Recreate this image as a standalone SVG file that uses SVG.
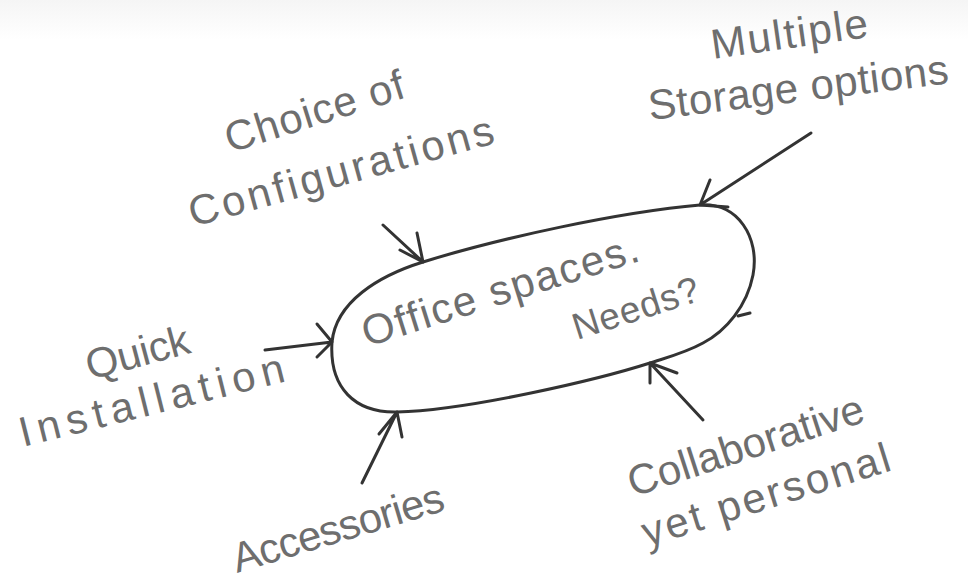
<svg xmlns="http://www.w3.org/2000/svg" width="968" height="584" viewBox="0 0 968 584">
<defs>
<linearGradient id="topfade" x1="0" y1="0" x2="0" y2="1">
<stop offset="0" stop-color="#f5f5f5"/>
<stop offset="1" stop-color="#ffffff"/>
</linearGradient>
<style>
.lbl{font-family:"Liberation Sans",Arial,sans-serif;font-size:42px;fill:#6e6e6e;}
.ln{fill:none;stroke:#333333;stroke-width:3;stroke-linecap:round;stroke-linejoin:round;}
.bd{fill:none;stroke:#333333;stroke-width:3;}
</style>
</defs>
<rect x="0" y="0" width="968" height="584" fill="#ffffff"/>
<rect x="0" y="0" width="968" height="40" fill="url(#topfade)"/>

<g id="center">
<path class="bd" d="M332 342 C336 302 378 276 423 262 C500 238 620 212 700 205 C738 202 760 238 753 275 C747 306 726 331 703 343 C685 353 665 358 650 363 C600 379 470 410 397 412 C355 413 329 388 332 342 Z"/>
<path class="ln" d="M738 316 L750 313"/>
<text class="lbl" transform="translate(367,347) rotate(-17.5)" textLength="288" lengthAdjust="spacing">Office spaces.</text>
<text class="lbl" style="font-size:37px" transform="translate(577,340) rotate(-17.7)" textLength="131" lengthAdjust="spacing">Needs?</text>
</g>

<g id="storage">
<text class="lbl" transform="translate(713,59) rotate(-8)" textLength="158" lengthAdjust="spacing">Multiple</text>
<text class="lbl" transform="translate(650,120) rotate(-7)" textLength="302" lengthAdjust="spacing">Storage options</text>
</g>

<g id="config">
<text class="lbl" transform="translate(230,153) rotate(-17.5)" textLength="186" lengthAdjust="spacing">Choice of</text>
<text class="lbl" transform="translate(193,227) rotate(-15.5)" textLength="315" lengthAdjust="spacing">Configurations</text>
</g>

<g id="quick">
<text class="lbl" transform="translate(90,380) rotate(-15)" textLength="106" lengthAdjust="spacing">Quick</text>
<text class="lbl" transform="translate(23,447) rotate(-14)" textLength="272" lengthAdjust="spacing">Installation</text>
</g>

<g id="accessories">
<text class="lbl" transform="translate(237,573) rotate(-16.7)" textLength="219" lengthAdjust="spacing">Accessories</text>
</g>

<g id="collab">
<text class="lbl" transform="translate(633,497) rotate(-18)" textLength="246" lengthAdjust="spacing">Collaborative</text>
<text class="lbl" transform="translate(647,547) rotate(-17.4)" textLength="258" lengthAdjust="spacing">yet personal</text>
</g>

<g id="connectors">
<path class="ln" d="M811 133 L700 205 M700 205 L710 180 M700 205 L728 207"/>
<path class="ln" d="M383 225 L423 262 M423 262 L417 233 M423 262 L400 250"/>
<path class="ln" d="M265 350 L332 342 M332 342 L317 324 M332 342 L317 357"/>
<path class="ln" d="M362 483 L397 412 M397 412 L379 434 M397 412 L402 437"/>
<path class="ln" d="M703 420 L650 363 M650 363 L677 373 M650 363 L650 383"/>
</g>
</svg>
